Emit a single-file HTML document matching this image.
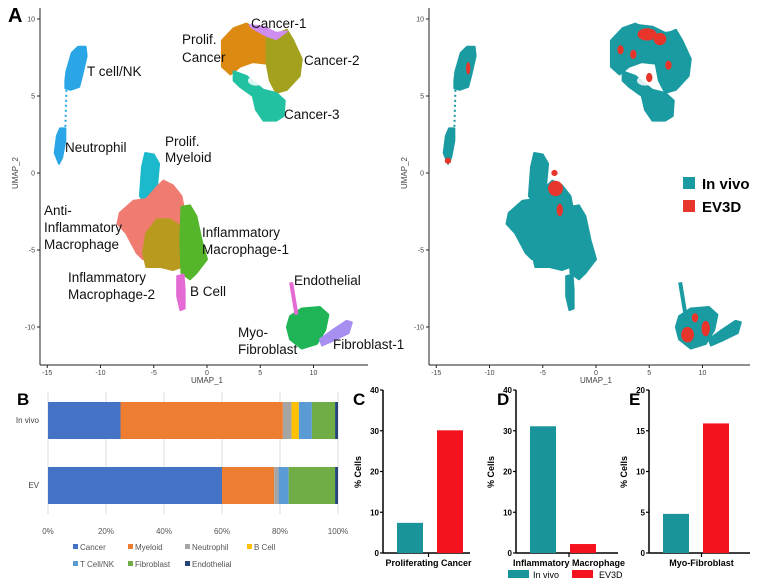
<!DOCTYPE html>
<html><head><meta charset="utf-8">
<style>
body{margin:0;background:#fff;}
svg{display:block;font-family:"Liberation Sans",sans-serif;}
.lbl{font-size:13.5px;fill:#111;}
.tk{font-size:7px;fill:#444;}
.b{font-weight:bold;}
</style></head>
<body>
<svg id="fig" width="759" height="587" viewBox="0 0 759 587" xmlns="http://www.w3.org/2000/svg">
<rect width="759" height="587" fill="#fff"/>
<g id="umapL"></g>
<g id="umapR"></g>
<g id="barB"></g>
<g id="barC"></g>
<g id="barD"></g>
<g id="barE"></g>
</svg>
<script>
const NS="http://www.w3.org/2000/svg";
function mk(parent,tag,attrs,text){const e=document.createElementNS(NS,tag);for(const k in attrs)e.setAttribute(k,attrs[k]);if(text!==undefined)e.textContent=text;parent.appendChild(e);return e;}

// ---- UMAP data (UMAP coordinates) ----
const umapTicksX=[-15,-10,-5,0,5,10];
const umapTicksY=[-10,-5,0,5,10];
const clusterNames=["T cell/NK","Neutrophil","Prolif. Cancer","Cancer-2","Cancer-1","Cancer-3","Prolif. Myeloid","Anti-Inflammatory Macrophage","Inflammatory Macrophage-2","Inflammatory Macrophage-1","B Cell","Myo-Fibroblast","Fibroblast-1"];
const clusterColors=["#2aa6e6","#2aa6e6","#dc8a12","#a3a11d","#d08df0","#22c1a2","#1cb8cc","#f07b70","#b89a1f","#55b52b","#e46ad4","#1fb557","#a68ff0"];
const clusterShapes=[
[[-13.3,6.0],[-13.2,6.6],[-12.7,7.8],[-12.1,8.2],[-11.4,8.2],[-11.3,7.6],[-11.7,6.4],[-12.0,5.6],[-12.8,5.4],[-13.3,5.5]],
[[-14.3,1.3],[-14.1,2.4],[-13.8,2.9],[-13.3,2.9],[-13.3,2.1],[-13.6,1.0],[-13.9,0.6]],
[[1.4,8.6],[2.5,9.4],[3.7,9.7],[4.3,9.5],[5.6,8.9],[5.6,7.1],[4.3,7.2],[3.1,6.9],[2.2,6.4],[1.4,6.9]],
[[5.6,8.9],[6.5,9.0],[7.5,9.3],[8.1,8.6],[8.9,7.4],[8.7,6.3],[7.5,5.4],[6.5,5.2],[5.9,6.0],[5.6,7.1]],
[[4.0,9.6],[5.3,9.5],[6.5,9.1],[7.5,9.2],[6.5,8.7],[5.6,8.9],[4.3,9.4]],
[[2.5,6.6],[3.7,6.3],[5.3,5.4],[6.5,5.2],[7.3,4.7],[7.2,3.7],[6.5,3.4],[5.3,3.4],[4.6,4.1],[4.3,5.0],[3.1,5.6],[2.5,6.0]],
[[-6.3,-1.5],[-6.1,0.4],[-5.8,1.3],[-5.0,1.2],[-4.5,0.6],[-4.7,-0.9],[-5.2,-1.8],[-6.0,-1.8]],
[[-8.2,-2.6],[-6.9,-1.8],[-5.7,-1.7],[-4.7,-0.9],[-4.1,-0.5],[-3.2,-0.8],[-2.4,-1.5],[-2.2,-2.2],[-2.4,-3.5],[-4.7,-3.0],[-5.7,-3.9],[-6.0,-5.6],[-6.6,-5.2],[-7.6,-3.9],[-8.4,-3.3]],
[[-5.7,-3.9],[-4.7,-3.0],[-3.5,-3.0],[-2.4,-3.5],[-2.4,-6.1],[-3.2,-6.3],[-4.4,-6.1],[-5.7,-6.1],[-6.0,-5.2]],
[[-2.4,-2.2],[-1.6,-2.1],[-1.0,-2.8],[-0.5,-4.4],[0,-5.6],[-1,-6.5],[-1.6,-6.9],[-2.4,-6.5],[-2.5,-4.4]],
[[-2.8,-6.7],[-2.2,-6.6],[-2.1,-7.6],[-2.1,-8.8],[-2.5,-8.9],[-2.8,-8.0]],
[[7.8,-9.3],[8.9,-8.8],[10.6,-8.7],[11.4,-9.2],[11.1,-10.2],[10.3,-11.1],[8.9,-11.4],[7.8,-10.8],[7.5,-10.0]],
[[10.6,-10.8],[11.8,-10.2],[13.1,-9.6],[13.6,-9.7],[13.3,-10.4],[11.8,-10.9],[10.8,-11.2]]
];
const trailShapes=[[[-13.2,5.4],[-13.3,2.9]],[[7.9,-7.1],[8.4,-9.2]]];
const trailColors=["#2aa6e6","#e46ad4"];
const ev3dPatches=[[4.8,9.0,0.9,0.4],[6.0,8.7,0.6,0.4],[2.3,8.0,0.3,0.3],[3.5,7.7,0.3,0.3],[6.8,7.0,0.3,0.3],[5.0,6.2,0.3,0.3],[-3.8,-1.0,0.7,0.5],[-3.4,-2.4,0.3,0.4],[-3.9,0.0,0.3,0.2],[8.6,-10.5,0.6,0.5],[10.3,-10.1,0.4,0.5],[9.3,-9.4,0.3,0.3],[-13.9,0.8,0.3,0.2],[-12.0,6.8,0.2,0.4]];
const clusterLabels=[["Cancer-1",251,28],["Prolif.",182,44],["Cancer",182,62],["Cancer-2",304,65],["T cell/NK",87,76],["Cancer-3",284,119],["Prolif.",165,146],["Myeloid",165,162],["Neutrophil",65,152],["Anti-",44,215],["Inflammatory",44,232],["Macrophage",44,249],["Inflammatory",202,237],["Macrophage-1",202,254],["Inflammatory",68,282],["Macrophage-2",68,299],["B Cell",190,296],["Endothelial",294,285],["Myo-",238,337],["Fibroblast",238,354],["Fibroblast-1",333,349]];

function umapAxes(g,x0,axisX,right){
  const sx=u=>x0+10.65*u, sy=v=>173-15.4*v;
  mk(g,"line",{x1:axisX,y1:8,x2:axisX,y2:365,stroke:"#222","stroke-width":1,});
  mk(g,"line",{x1:axisX,y1:365,x2:right,y2:365,stroke:"#222","stroke-width":1,});
  umapTicksX.forEach(t=>{mk(g,"line",{x1:sx(t),y1:365,x2:sx(t),y2:368,stroke:"#222"});const e=mk(g,"text",{x:sx(t),y:375,"text-anchor":"middle",class:"tk"},String(t));});
  umapTicksY.forEach(t=>{mk(g,"line",{x1:axisX-3,y1:sy(t),x2:axisX,y2:sy(t),stroke:"#222"});const e=mk(g,"text",{x:axisX-5,y:sy(t)+2.5,"text-anchor":"end",class:"tk"},String(t));});
  const xl=mk(g,"text",{x:sx(0),y:383,"text-anchor":"middle",class:"tk",style:"font-size:8px"},"UMAP_1");
  
  const yl=mk(g,"text",{x:axisX-22,y:173,"text-anchor":"middle",class:"tk",style:"font-size:8px",transform:`rotate(-90 ${axisX-22} 173)`},"UMAP_2");
  
  return [sx,sy];
}
function drawShapes(g,sx,sy,colorFn){
  clusterShapes.forEach((pts,i)=>{
    const p=mk(g,"polygon",{points:pts.map(q=>sx(q[0])+","+sy(q[1])).join(" "),fill:colorFn(i),stroke:colorFn(i),"stroke-width":2,"stroke-linejoin":"round"});
    
    
  });
  trailShapes.forEach((pts,i)=>{
    const l=mk(g,"polyline",{points:pts.map(q=>sx(q[0])+","+sy(q[1])).join(" "),fill:"none",stroke:colorFn(null,i),"stroke-width":i?4:2,"stroke-dasharray":i?"none":"2 3"});
    
  });
}
(function(){
  const g=document.getElementById("umapL");
  const [sx,sy]=umapAxes(g,207,40,368);
  drawShapes(g,sx,sy,(i,j)=>i===null?trailColors[j]:clusterColors[i]);
  // hollow region in cancer
  mk(g,"ellipse",{cx:sx(4.6),cy:sy(6.0),rx:8,ry:5,fill:"#fff",opacity:0.85});
  clusterLabels.forEach(l=>{const t=mk(g,"text",{x:l[1],y:l[2],class:"lbl"},l[0]);});
  const a=mk(g,"text",{x:8,y:22,class:"b",style:"font-size:20px"},"A");
})();
(function(){
  const g=document.getElementById("umapR");
  const [sx,sy]=umapAxes(g,596,429,750);
  drawShapes(g,sx,sy,()=>"#1a9ba1");
  mk(g,"ellipse",{cx:sx(4.6),cy:sy(6.0),rx:8,ry:5,fill:"#fff",opacity:0.85});
  ev3dPatches.forEach(p=>{const e=mk(g,"ellipse",{cx:sx(p[0]),cy:sy(p[1]),rx:p[2]*10.65,ry:p[3]*15.4,fill:"#e8352b"});});
  const lg=mk(g,"g",{});
  mk(lg,"rect",{x:683,y:177,width:12,height:12,fill:"#1a9ba1"});
  mk(lg,"text",{x:702,y:189,class:"b",style:"font-size:15px"},"In vivo");
  mk(lg,"rect",{x:683,y:200,width:12,height:12,fill:"#e8352b"});
  mk(lg,"text",{x:702,y:212,class:"b",style:"font-size:15px"},"EV3D");
})();

// ---- B stacked bar data ----
const stackGroups=["In vivo","EV"];
const stackCategories=["Cancer","Myeloid","Neutrophil","B Cell","T Cell/NK","Fibroblast","Endothelial"];
const stackInVivo=[25,56,3,2.5,4.5,8,1];
const stackEV=[60,18,1.5,0,3.5,16,1];
const stackColors=["#4472c4","#ed7d31","#a5a5a5","#ffc000","#5b9bd5","#70ad47","#264478"];
const stackTicks=[0,20,40,60,80,100];
(function(){
  const g=document.getElementById("barB");
  const sx=v=>48+2.9*v;
  stackTicks.forEach(t=>{mk(g,"line",{x1:sx(t),y1:392,x2:sx(t),y2:514,stroke:"#ddd","stroke-width":1});
    const e=mk(g,"text",{x:sx(t),y:534,"text-anchor":"middle",style:"font-size:8px;fill:#555"},t+"%");});
  const rows=[stackInVivo,stackEV], ys=[402,467];
  rows.forEach((vals,r)=>{let acc=0;vals.forEach((v,i)=>{const rc=mk(g,"rect",{x:sx(acc),y:ys[r],width:sx(acc+v)-sx(acc),height:37,fill:stackColors[i]});
      acc+=v;});
    const t=mk(g,"text",{x:39,y:ys[r]+21,"text-anchor":"end",style:"font-size:8px;fill:#444"},stackGroups[r]);});
  const lx=[73,128,185,247,73,128,185], ly=[550,550,550,550,567,567,567];
  stackCategories.forEach((c,i)=>{const lg=mk(g,"g",{});
    mk(lg,"rect",{x:lx[i],y:ly[i]-6,width:5,height:5,fill:stackColors[i]});
    mk(lg,"text",{x:lx[i]+7,y:ly[i],style:"font-size:8px;fill:#555"},c);});
  const b=mk(g,"text",{x:17,y:405,class:"b",style:"font-size:17px"},"B");
})();

// ---- C/D/E bar data ----
const condNames=["In vivo","EV3D"];
const condColors=["#1a949b","#f3121e"];
const cValues=[7.4,30.1];
const dValues=[31.1,2.2];
const eValues=[4.8,15.9];
const cTicks=[0,10,20,30,40];
const dTicks=[0,10,20,30,40];
const eTicks=[0,5,10,15,20];
function barPanel(id,axisX,right,max,ticks,vals,label,letter,lx){
  const g=document.getElementById(id);
  const sy=v=>553-163*v/max;
  mk(g,"line",{x1:axisX,y1:390,x2:axisX,y2:553,stroke:"#000","stroke-width":1.5});
  mk(g,"line",{x1:axisX,y1:553,x2:right,y2:553,stroke:"#000","stroke-width":1.5});
  const mid=(axisX+right)/2+2;
  mk(g,"line",{x1:mid,y1:553,x2:mid,y2:557,stroke:"#000","stroke-width":1.2});
  ticks.forEach(t=>{mk(g,"line",{x1:axisX-3,y1:sy(t),x2:axisX,y2:sy(t),stroke:"#000","stroke-width":1.2});
    const e=mk(g,"text",{x:axisX-4,y:sy(t)+3,"text-anchor":"end",class:"b",style:"font-size:8px"},String(t));});
  vals.forEach((v,i)=>{const x=axisX+14+i*40;const r=mk(g,"rect",{x:x,y:sy(v),width:26,height:553-sy(v),fill:condColors[i]});
    });
  const t=mk(g,"text",{x:mid,y:566,"text-anchor":"middle",class:"b",style:"font-size:9px"},label);
  const yx=axisX-22;const y=mk(g,"text",{x:yx,y:472,"text-anchor":"middle",class:"b",style:"font-size:9px",transform:`rotate(-90 ${yx} 472)`},"% Cells");
  const L=mk(g,"text",{x:lx,y:405,class:"b",style:"font-size:17px"},letter);
}
barPanel("barC",383,470,40,cTicks,cValues,"Proliferating Cancer","C",353);
barPanel("barD",516,618,40,dTicks,dValues,"Inflammatory Macrophage","D",497);
barPanel("barE",649,750,20,eTicks,eValues,"Myo-Fibroblast","E",629);
(function(){
  const g=document.getElementById("barD");
  const lg=mk(g,"g",{});
  mk(lg,"rect",{x:508,y:570,width:21,height:8,fill:condColors[0]});
  mk(lg,"text",{x:533,y:578,style:"font-size:9px"},"In vivo");
  mk(lg,"rect",{x:572,y:570,width:21,height:8,fill:condColors[1]});
  mk(lg,"text",{x:599,y:578,style:"font-size:9px"},"EV3D");
})();
</script>
</body></html>
